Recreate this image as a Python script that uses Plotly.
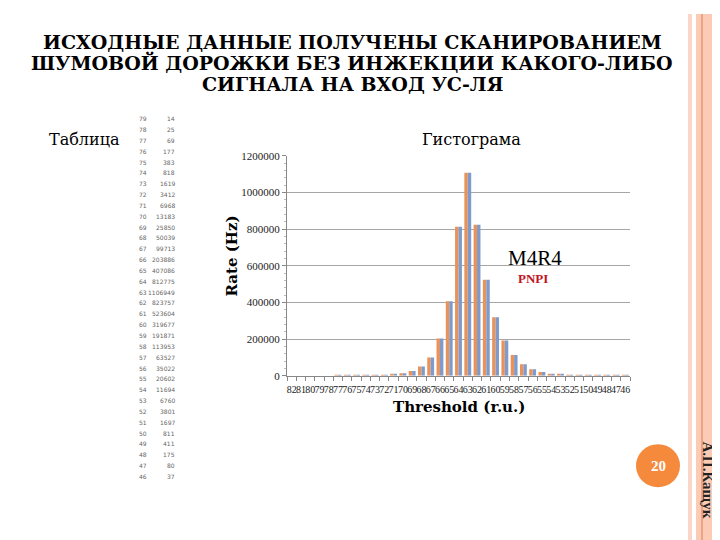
import plotly.graph_objects as go

# ---------------- data ----------------
thresholds = ["82", "81", "80", "79", "78", "77", "76", "75", "74", "73", "72", "71",
              "70", "69", "68", "67", "66", "65", "64", "63", "62", "61", "60", "59",
              "58", "57", "56", "55", "54", "53", "52", "51", "50", "49", "48", "47", "46"]
rate_orange = [0, 0, 0, 14, 25, 69, 177, 383, 818, 1619, 3412, 6968, 13183, 25850,
               50039, 99713, 203886, 407086, 812775, 1106949, 823757, 523604, 319677,
               191871, 113953, 63527, 35022, 20602, 11694, 6760, 3801, 1697, 811, 411,
               175, 80, 37]
rate_blue = [0, 0, 0, 14, 25, 69, 177, 383, 818, 1619, 3412, 6968, 13183, 25850,
             50039, 99713, 203886, 407086, 812775, 1106949, 823757, 523604, 319677,
             191871, 113953, 63527, 35022, 20602, 11694, 6760, 3801, 1697, 811, 411,
             175, 80, 37]
table_thr = ["79", "78", "77", "76", "75", "74", "73", "72", "71", "70", "69", "68",
             "67", "66", "65", "64", "63", "62", "61", "60", "59", "58", "57", "56",
             "55", "54", "53", "52", "51", "50", "49", "48", "47", "46"]
table_cnt = ["14", "25", "69", "177", "383", "818", "1619", "3412", "6968", "13183",
             "25850", "50039", "99713", "203886", "407086", "812775", "1106949",
             "823757", "523604", "319677", "191871", "113953", "63527", "35022",
             "20602", "11694", "6760", "3801", "1697", "811", "411", "175", "80", "37"]
y_ticks = [0, 200000, 400000, 600000, 800000, 1000000, 1200000]

W, H = 720, 540
OFF = 8  # page body margin
def px(x):
    return (x - OFF) / W
def py(y):
    return 1 - (y - OFF) / H

SERIF = "Liberation Serif"
WIDE = "DejaVu Serif"
fig = go.Figure()
fig.add_trace(go.Bar(x=thresholds, y=rate_orange, marker=dict(color="#E9925A", line=dict(width=0)),
                     name="A", showlegend=False))
fig.add_trace(go.Bar(x=thresholds, y=rate_blue, marker=dict(color="#7F9BCB", line=dict(width=0)),
                     name="B", showlegend=False))

fig.update_layout(
    width=W, height=H, margin=dict(l=0, r=0, t=0, b=0),
    paper_bgcolor="white", plot_bgcolor="white",
    barmode="group", bargap=0.26, bargroupgap=0.0,
    font=dict(family=SERIF, color="#222"),
    xaxis=dict(domain=[px(287), px(630)], type="category",
               tickmode="array", tickvals=thresholds, ticktext=thresholds,
               tickangle=0, tickfont=dict(size=10, family=SERIF, color="#222"),
               ticks="outside", ticklen=4, tickcolor="#888", tickson="boundaries",
               ticklabelstandoff=4,
               showline=True, linecolor="#888", linewidth=1, showgrid=False),
    yaxis=dict(domain=[py(378), py(153)], range=[0, 1200000],
               tickmode="array", tickvals=y_ticks, tickformat="d",
               tickfont=dict(size=11, family=SERIF, color="#222"),
               ticks="outside", ticklen=4, tickcolor="#888",
               showline=True, linecolor="#888", linewidth=1,
               showgrid=True, gridcolor="#A6A6A6", gridwidth=1, zeroline=False,
               minor=dict(ticks="outside", ticklen=2, tickcolor="#BBB", dtick=40000, showgrid=False)),
)

ann = []
title_lines = [("ИСХОДНЫЕ ДАННЫЕ ПОЛУЧЕНЫ СКАНИРОВАНИЕМ", 37),
               ("ШУМОВОЙ ДОРОЖКИ БЕЗ ИНЖЕКЦИИ КАКОГО-ЛИБО", 58),
               ("СИГНАЛА НА ВХОД УС-ЛЯ", 80)]
for txt, y in title_lines:
    ann.append(dict(text="<b>" + txt + "</b>", x=px(352), y=py(y), xref="paper", yref="paper",
                    showarrow=False, xanchor="center", yanchor="middle",
                    font=dict(family=WIDE, size=19, color="#000")))
ann.append(dict(text="Таблица", x=px(47), y=py(136), xref="paper", yref="paper", showarrow=False,
                xanchor="left", yanchor="middle", font=dict(family=WIDE, size=16, color="#000")))
ann.append(dict(text="Гистограма", x=px(471), y=py(136), xref="paper", yref="paper", showarrow=False,
                xanchor="center", yanchor="middle", font=dict(family=WIDE, size=16, color="#000")))
ann.append(dict(text="M4R4", x=px(535), y=py(258), xref="paper", yref="paper", showarrow=False,
                xanchor="center", yanchor="middle", font=dict(family=SERIF, size=21, color="#000")))
ann.append(dict(text="<b>PNPI</b>", x=px(533), y=py(279), xref="paper", yref="paper", showarrow=False,
                xanchor="center", yanchor="middle", font=dict(family=SERIF, size=13, color="#C0141E")))
ann.append(dict(text="<b>Rate (Hz)</b>", x=px(232), y=py(256), xref="paper", yref="paper", showarrow=False,
                textangle=-90, xanchor="center", yanchor="middle",
                font=dict(family=WIDE, size=15, color="#000")))
ann.append(dict(text="<b>Threshold (r.u.)</b>", x=px(459), y=py(410), xref="paper", yref="paper",
                showarrow=False, xanchor="center", yanchor="middle",
                font=dict(family=WIDE, size=15, color="#000")))

# small table
for i, (t, c) in enumerate(zip(table_thr, table_cnt)):
    yy = 115 + i * (481 - 115) / (len(table_thr) - 1)
    ann.append(dict(text=t, x=px(143), y=py(yy), xref="paper", yref="paper", showarrow=False,
                    xanchor="center", yanchor="middle", font=dict(family="DejaVu Sans", size=6, color="#666")))
    ann.append(dict(text=c, x=px(177), y=py(yy), xref="paper", yref="paper", showarrow=False,
                    xanchor="right", yanchor="middle", font=dict(family="DejaVu Sans", size=6, color="#666")))

# slide number and author
ann.append(dict(text="<b>20</b>", x=px(658), y=py(470), xref="paper", yref="paper", showarrow=False,
                xanchor="center", yanchor="middle", font=dict(family=SERIF, size=15, color="white")))
ann.append(dict(text="<b>А.П.Кащук</b>", x=px(708), y=py(484), xref="paper", yref="paper", showarrow=False,
                textangle=90, xanchor="center", yanchor="middle", font=dict(family=SERIF, size=15, color="#222")))
fig.update_layout(annotations=ann)

shapes = [
    dict(type="rect", xref="paper", yref="paper", x0=px(688), x1=px(692), y0=0, y1=1,
         fillcolor="#F9D6C8", line=dict(width=0), layer="below"),
    dict(type="rect", xref="paper", yref="paper", x0=px(696), x1=1, y0=0, y1=1,
         fillcolor="#FBCBB6", line=dict(width=0), layer="below"),
    dict(type="line", xref="paper", yref="paper", x0=px(702), x1=px(702), y0=0, y1=1,
         line=dict(color="#D9804F", width=1)),
    dict(type="circle", xref="paper", yref="paper", x0=px(636), x1=px(680), y0=py(492), y1=py(448),
         fillcolor="#F58A3D", line=dict(width=0)),
]
fig.update_layout(shapes=shapes)

fig.write_html("out.html")
